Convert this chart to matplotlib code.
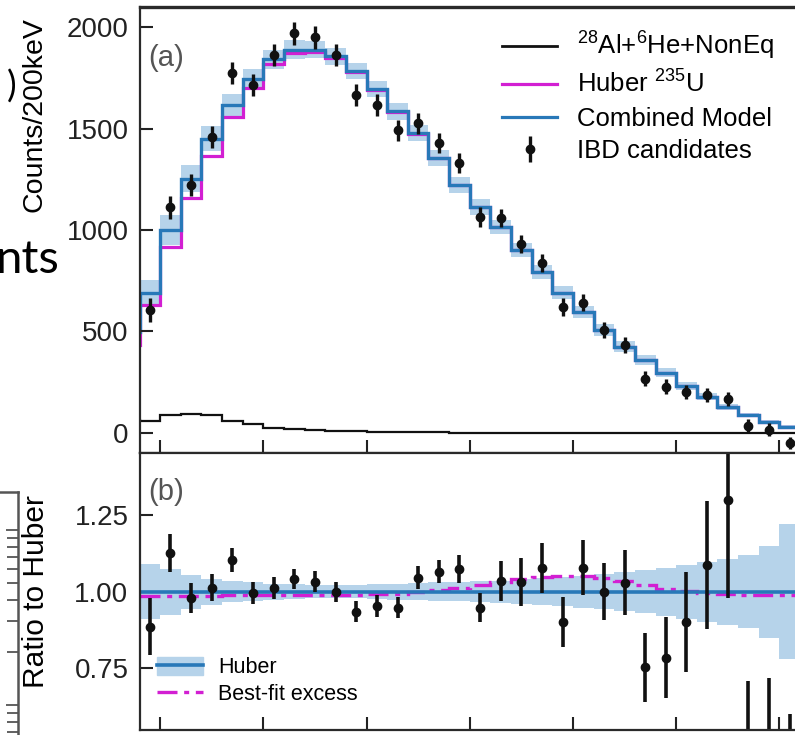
import numpy as np
import matplotlib
matplotlib.use('Agg')
import matplotlib.pyplot as plt
from matplotlib.lines import Line2D
from matplotlib.patches import Patch

plt.rcParams['font.family'] = ['Liberation Sans', 'DejaVu Sans']
plt.rcParams['mathtext.fontset'] = 'custom'
plt.rcParams['mathtext.rm'] = 'Liberation Sans'
plt.rcParams['mathtext.it'] = 'Liberation Sans:italic'

# 200 keV prompt-energy bins; the model starts one bin left of the axis
edges = np.round(np.arange(0.6, 7.21, 0.2), 2)
centers = np.round(np.arange(0.9, 7.11, 0.2), 2)

# model spectra (counts / 200 keV), one value per model bin
huber = [433, 631, 915, 1160, 1365, 1557, 1700, 1820, 1874, 1877, 1847, 1778,
         1690, 1582, 1476, 1354, 1221, 1112, 1014, 900, 793, 690, 596, 507,
         424, 360, 296, 231, 177, 128, 89, 54, 30]
bkg = [64, 59, 85, 94, 85, 59, 43, 22, 16, 13, 10, 7, 5, 3, 2, 2, 1, 1, 1, 1,
       0, 0, 0, 0, 0, 0, 0, 0, 0, 0, 0, 0, 0]
# relative model uncertainty per bin
rel_unc = [0.10, 0.09, 0.075, 0.055, 0.042, 0.035, 0.03, 0.026, 0.024, 0.022,
           0.022, 0.022, 0.024, 0.026, 0.028, 0.03, 0.032, 0.034, 0.036, 0.04,
           0.043, 0.047, 0.052, 0.057, 0.063, 0.07, 0.078, 0.088, 0.098,
           0.108, 0.12, 0.15, 0.22]

# IBD candidates
counts = [605, 1113, 1222, 1458, 1773, 1714, 1862, 1970, 1950, 1862, 1665,
          1616, 1493, 1527, 1429, 1330, 1064, 1059, 930, 837, 621, 640, 507,
          433, 266, 227, 202, 187, 167, 34, 15, -50]
counts_err = [58, 57, 56, 55, 55, 55, 55, 55, 55, 55, 54, 53, 52, 51, 50, 49,
              47, 46, 45, 44, 43, 42, 40, 39, 37, 36, 35, 34, 33, 32, 31, 30]

# ratio to Huber
ratio = [0.886, 1.125, 0.978, 1.013, 1.103, 0.996, 1.012, 1.041, 1.033, 1.0,
         0.935, 0.954, 0.948, 1.046, 1.065, 1.074, 0.948, 1.035, 1.032, 1.077,
         0.902, 1.078, 1.0, 1.029, 0.753, 0.785, 0.902, 1.087, 1.299, 0.38,
         0.28, -1.0]
ratio_err = [0.093, 0.062, 0.049, 0.043, 0.038, 0.036, 0.035, 0.033, 0.033,
             0.033, 0.035, 0.035, 0.035, 0.038, 0.038, 0.046, 0.046, 0.065,
             0.079, 0.083, 0.082, 0.09, 0.092, 0.106, 0.112, 0.132, 0.163,
             0.209, 0.32, 0.33, 0.44, 1.6]
# best-fit excess relative to Huber, 0.8-7.2 MeV
excess = [0.985, 0.985, 0.986, 0.987, 0.988, 0.988, 0.989, 0.989, 0.99, 0.99,
          0.99, 0.991, 0.993, 0.998, 1.005, 1.012, 1.022, 1.032, 1.041, 1.048,
          1.052, 1.051, 1.044, 1.034, 1.021, 1.01, 1.002, 0.996, 0.992, 0.99,
          0.99, 0.99]

BLUE = '#2878b8'
BAND = '#b6d3ea'
MAG = '#d21fd2'
W, H = 795, 735


def px_box(x0, y0, x1, y1):
    return [x0 / W, 1 - y1 / H, (x1 - x0) / W, (y1 - y0) / H]


fig = plt.figure(figsize=(W / 100, H / 100), dpi=100)
ax1 = fig.add_axes(px_box(139.5, 7, 800, 453))
ax2 = fig.add_axes(px_box(139.5, 453, 800, 730), sharex=ax1)

huber = np.array(huber, float)
bkg = np.array(bkg, float)
rel_unc = np.array(rel_unc)
combined = huber + bkg

# (a) spectrum
ax1.stairs(combined * (1 + rel_unc), edges, baseline=combined * (1 - rel_unc),
           fill=True, color=BAND, lw=0)
ax1.stairs(huber, edges, baseline=None, color=MAG, lw=2.3)
ax1.stairs(combined, edges, baseline=None, color=BLUE, lw=2.4)
ax1.stairs(bkg, edges, baseline=None, color='#111', lw=1.6)
eb = ax1.errorbar(centers, counts, yerr=counts_err, fmt='o', ms=6, color='#111',
                  elinewidth=2.4, capsize=0)
ax1.set_xlim(0.8, 7.2)
ax1.set_ylim(-100, 2100)
ax1.set_yticks([0, 500, 1000, 1500, 2000])
ax1.set_ylabel('Counts/200keV', fontsize=20.5)
ax1.yaxis.set_label_coords(-0.14, 0.758)
ax1.text(0.013, 0.885, '(a)', transform=ax1.transAxes, fontsize=21,
         color='#555', va='center')
ax1.legend([Line2D([], [], color='#111', lw=2),
            Line2D([], [], color=MAG, lw=2.3),
            Line2D([], [], color=BLUE, lw=2.3), eb],
           ['$^{28}$Al+$^{6}$He+NonEq', 'Huber $^{235}$U', 'Combined Model',
            'IBD candidates'],
           loc='upper left', bbox_to_anchor=(0.549, 0.948), frameon=False,
           fontsize=18.5, borderpad=0, borderaxespad=0, handlelength=2.14,
           handletextpad=0.78, labelspacing=0.33)

# (b) ratio
ax2.stairs(1 + rel_unc[1:], edges[1:], baseline=1 - rel_unc[1:], fill=True,
           color=BAND, lw=0)
ax2.axhline(1.0, color=BLUE, lw=2.6)
ax2.stairs(excess, edges[1:], baseline=None, color=MAG, lw=2.4,
           linestyle=(0, (6, 2, 1.5, 2)))
ax2.errorbar(centers, ratio, yerr=ratio_err, fmt='o', ms=6, color='#111',
             elinewidth=2.6, capsize=0)
ax2.set_ylim(0.549, 1.452)
ax2.set_yticks([0.75, 1.00, 1.25])
ax2.set_yticklabels(['0.75', '1.00', '1.25'])
ax2.set_ylabel('Ratio to Huber', fontsize=21.5)
ax2.yaxis.set_label_coords(-0.135, 0.5)
ax2.text(0.013, 0.86, '(b)', transform=ax2.transAxes, fontsize=21,
         color='#555', va='center')
ax2.legend([(Patch(color=BAND), Line2D([], [], color=BLUE, lw=2.6)),
            Line2D([], [], color=MAG, lw=2.4, linestyle=(0, (6, 2, 1.5, 2)))],
           ['Huber', 'Best-fit excess'], loc='upper left',
           bbox_to_anchor=(0.0266, 0.264), frameon=False, fontsize=15.5,
           borderpad=0, borderaxespad=0, handlelength=2.14, handleheight=0.9,
           handletextpad=0.7, labelspacing=0.25)

for ax in (ax1, ax2):
    ax.set_xticks([1, 2, 3, 4, 5, 6, 7])
    ax.tick_params(direction='in', length=9.5, width=1.5, labelsize=20,
                   pad=8, colors='#222', labelbottom=False)
    for s in ax.spines.values():
        s.set_linewidth(1.6)
        s.set_color('#2a2a2a')
ax1.spines['top'].set_linewidth(2.4)

# neighbouring panel frame at the left edge
axl = fig.add_axes(px_box(-200, 492, 18, 800))
axl.set_yscale('log')
axl.set_ylim(0.286, 16.5)
axl.set_xticks([])
axl.yaxis.tick_right()
axl.tick_params(axis='y', which='both', direction='in', labelright=False,
                colors='#555', width=1.3)
axl.tick_params(axis='y', which='major', length=9)
axl.tick_params(axis='y', which='minor', length=8)
for side in ('left', 'bottom'):
    axl.spines[side].set_visible(False)
for side in ('right', 'top'):
    axl.spines[side].set_linewidth(1.8)
    axl.spines[side].set_color('#555')

# slide text running off the left edge
fig.text(-4 / W, 1 - 273 / H, 'nts', family=['Lato', 'DejaVu Sans'],
         fontsize=34, va='baseline', ha='left')
fig.text(16 / W, 1 - 87 / H, ')', family=['Lato', 'DejaVu Sans'],
         fontsize=26, va='center', ha='right')

fig.savefig('out.png', dpi=100)
